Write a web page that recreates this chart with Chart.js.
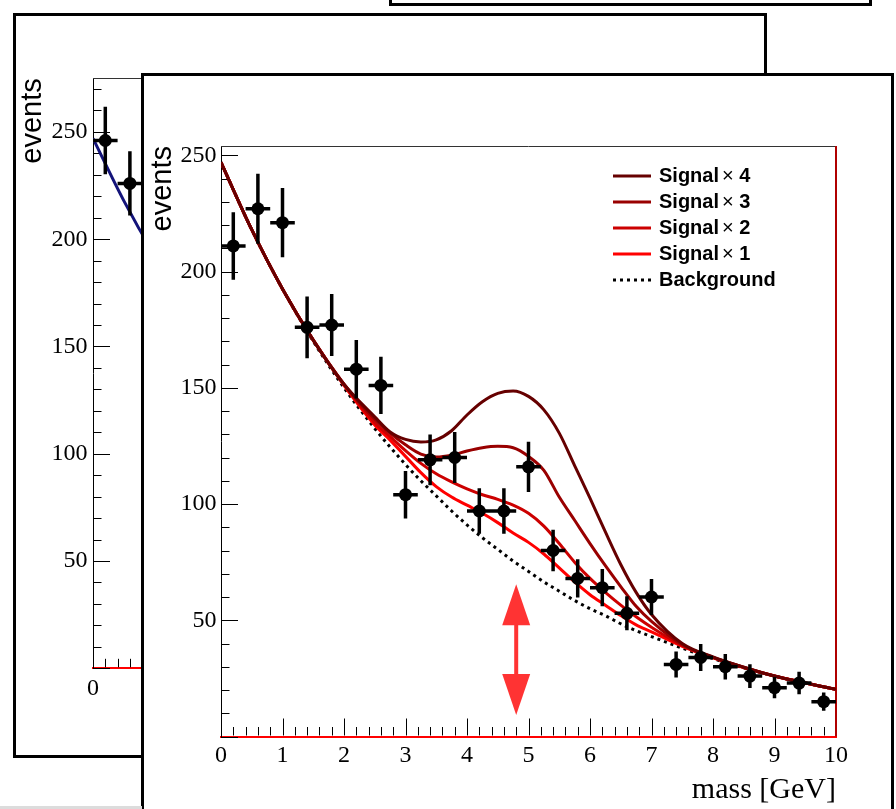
<!DOCTYPE html>
<html><head><meta charset="utf-8">
<script src="https://cdn.jsdelivr.net/npm/chart.js@4.4.1/dist/chart.umd.min.js"></script>
<style>
html,body{margin:0;padding:0;background:#fff;}
body{width:896px;height:809px;overflow:hidden;position:relative;}
.win{position:absolute;box-sizing:border-box;border:3px solid #000;background:#fff;overflow:hidden;}
#w3{left:389px;top:-300px;width:483px;height:306px;}
#w2{left:13px;top:13px;width:754px;height:745px;}
#w1{left:141px;top:73px;width:753px;height:760px;}
canvas{position:absolute;left:0;top:0;}
#bar{position:absolute;left:0;top:806px;width:142px;height:3px;background:#dcdcdc;}
</style></head>
<body>
<div class="win" id="w3"></div>
<div class="win" id="w2"><canvas id="c2" width="748" height="739"></canvas></div>
<div class="win" id="w1"><canvas id="c1" width="747" height="733"></canvas></div>
<div id="bar"></div>
<script>
// ---------- front plot ----------
const massBins = [0.2,0.6,1.0,1.4,1.8,2.2,2.6,3.0,3.4,3.8,4.2,4.6,5.0,5.4,5.8,6.2,6.6,7.0,7.4,7.8,8.2,8.6,9.0,9.4,9.8];
const events = [211,227,221,176,177,158,151,104,119,120,97,97,116,80,68,64,53,60,31,34,30,26,21,23,15];
const eventErrors = [14.5,15.1,14.9,13.3,13.3,12.6,12.3,10.2,10.9,11.0,9.8,9.8,10.8,8.9,8.2,8.0,7.3,7.7,5.6,5.8,5.5,5.1,4.6,4.8,3.9];
const binHalfWidth = 0.2;

const curveMass = [0,0.5,1,1.5,2,2.5,2.75,3,3.25,3.5,3.75,4,4.25,4.5,4.75,5,5.25,5.5,5.75,6,6.25,6.5,6.75,7,7.5,8,8.5,9,9.5,10];
const background = [247,218,192.5,170,150,132.5,124.5,117,110,103.5,97,91,85.5,80.5,75.5,71,66.5,62.5,58.5,55,52,48.5,45.5,43,38,33.5,29.5,26,23,20.3];
const signalTimes1 = [247,218,192.5,170.5,151,134,127.5,120.5,113.5,107.5,103,99.5,96,92,87.5,83.5,78.5,72.5,66.5,61,56.5,52,48,45,38.8,33.8,29.6,26,23,20.3];
const signalTimes2 = [247,218,192.5,170.5,151.5,135,129,123,117.5,113,109.5,106.5,104,102,99.5,96,90.5,83,75,68,62,56.5,51.5,47,39.2,34,29.7,26,23,20.3];
const signalTimes3 = [247,218,192.5,170.5,151.5,136.5,130.5,125.5,121.5,120.2,121,122.8,124.2,124.8,124.2,120.5,114.5,103,93,83,73.5,64.5,56,49.5,39.5,34,29.8,26,23,20.3];
const signalTimes4 = [247,218,192.5,170.5,151.5,137.5,131,127.8,126.7,127.6,131.5,138.3,144,147.6,148.6,146.3,140.5,130.5,116.5,102.5,88,74,62,52.5,40,34.2,29.8,26,23,20.3];

const massTicks = [0,1,2,3,4,5,6,7,8,9,10];
const eventTicks = [50,100,150,200,250];
const arrowMass = 4.8;
const arrowEvents = [9.2, 65.5];

// ---------- partially hidden plot behind ----------
const backBins = [0.2, 0.6];
const backEvents = [246, 226];
const backErrors = [15.7, 15.0];
const backCurveMass = [0, 0.5, 1, 1.5];
const backCurve = [247, 218, 192.5, 170];

function pts(xs, ys){ return xs.map((x,i)=>({x:x, y:ys[i]})); }
function vBars(xs, ys, es){ const o=[]; xs.forEach((x,i)=>{o.push({x:x,y:ys[i]-es[i]},{x:x,y:ys[i]+es[i]},{x:x,y:null});}); return o; }
function hBars(xs, ys, hw){ const o=[]; xs.forEach((x,i)=>{o.push({x:x-hw,y:ys[i]},{x:x+hw,y:ys[i]},{x:x,y:null});}); return o; }

const rootAxes = {
  id:'rootAxes',
  beforeDatasetsDraw(chart, args, o){
    const {ctx, chartArea:a, scales:{x,y}} = chart;
    ctx.save();
    ctx.strokeStyle='#000'; ctx.lineWidth=1;
    ctx.beginPath();
    let n = Math.round((x.max-x.min)/o.xMinor);
    for(let i=0;i<=n;i++){
      const v = x.min + i*o.xMinor;
      const major = Math.abs(v/o.xMajor - Math.round(v/o.xMajor)) < 1e-6;
      const px = Math.round(x.getPixelForValue(v))+0.5;
      ctx.moveTo(px, a.bottom-1); ctx.lineTo(px, a.bottom-1-(major?o.majorLen:o.minorLen));
    }
    n = Math.floor((y.max-y.min)/o.yMinor+1e-6);
    for(let i=0;i<=n;i++){
      const v = y.min + i*o.yMinor;
      const major = Math.abs(v/o.yMajor - Math.round(v/o.yMajor)) < 1e-6;
      const py = Math.round(y.getPixelForValue(v))+0.5;
      ctx.moveTo(a.left, py); ctx.lineTo(a.left+(major?o.majorLen:o.minorLen), py);
    }
    ctx.stroke();
    ctx.beginPath(); ctx.strokeStyle=o.topColor; ctx.lineWidth=1;
    ctx.moveTo(a.left, Math.round(a.top)+0.5); ctx.lineTo(a.right, Math.round(a.top)+0.5); ctx.stroke();
    ctx.beginPath(); ctx.strokeStyle=o.rightColor; ctx.lineWidth=2;
    ctx.moveTo(a.right, a.top); ctx.lineTo(a.right, a.bottom); ctx.stroke();
    ctx.restore();
  }
};

const rootLegend = {
  id:'rootLegend',
  afterDraw(chart, args, o){
    const ctx = chart.ctx;
    const items = chart.data.datasets.filter(d=>d.legendRank!==undefined).sort((p,q)=>p.legendRank-q.legendRank);
    items.forEach((d,i)=>{
      const yy = o.top + i*o.rowHeight;
      ctx.save();
      ctx.strokeStyle=d.borderColor; ctx.lineWidth=d.borderWidth; ctx.setLineDash(d.borderDash||[]);
      ctx.beginPath(); ctx.moveTo(o.lineX0, yy); ctx.lineTo(o.lineX1, yy); ctx.stroke();
      ctx.setLineDash([]);
      ctx.fillStyle='#000'; ctx.textBaseline='middle'; ctx.textAlign='left';
      const parts = d.label.split('\u00d7');
      let xx = o.textX;
      ctx.font = o.font;
      ctx.fillText(parts[0], xx, yy);
      if(parts.length>1){
        xx += ctx.measureText(parts[0]).width + o.timesGap;
        ctx.font = o.timesFont;
        ctx.fillText('\u00d7', xx, yy);
        xx += ctx.measureText('\u00d7').width;
        ctx.font = o.font;
        ctx.fillText(parts[1], xx, yy);
      }
      ctx.restore();
    });
  }
};

const rootArrow = {
  id:'rootArrow',
  afterDatasetsDraw(chart, args, o){
    const {ctx, scales:{x,y}} = chart;
    const px = x.getPixelForValue(o.mass);
    const yb = y.getPixelForValue(o.events[0]);
    const yt = y.getPixelForValue(o.events[1]);
    ctx.save();
    ctx.fillStyle=o.color; ctx.strokeStyle=o.color; ctx.lineWidth=o.shaft;
    ctx.beginPath(); ctx.moveTo(px, yt+o.headLen-1); ctx.lineTo(px, yb-o.headLen+1); ctx.stroke();
    ctx.beginPath(); ctx.moveTo(px, yt); ctx.lineTo(px+o.headHalf, yt+o.headLen); ctx.lineTo(px-o.headHalf, yt+o.headLen); ctx.closePath(); ctx.fill();
    ctx.beginPath(); ctx.moveTo(px, yb); ctx.lineTo(px+o.headHalf, yb-o.headLen); ctx.lineTo(px-o.headHalf, yb-o.headLen); ctx.closePath(); ctx.fill();
    ctx.restore();
  }
};

const serif = '"Liberation Serif", "Times New Roman", serif';
const sans = '"Liberation Sans", Arial, sans-serif';

function rootChart(canvas, cfg){
  return new Chart(canvas, {
    type:'line',
    data:{datasets:cfg.datasets},
    options:{
      responsive:false, animation:false, devicePixelRatio:1, events:[],
      layout:{padding:cfg.padding},
      plugins:{legend:{display:false}, tooltip:{enabled:false},
        rootAxes:cfg.axes, rootLegend:cfg.legend||false, rootArrow:cfg.arrow||false},
      scales:{
        x:{type:'linear', min:0, max:10,
          grid:{display:false, drawTicks:false},
          border:{display:true, color:'#ff0000', width:2},
          afterBuildTicks:s=>{ s.ticks = massTicks.map(v=>({value:v})); },
          afterFit:s=>{ s.height = cfg.xHeight; },
          ticks:{autoSkip:false, maxRotation:0, padding:cfg.xPad, color:'#000', font:{family:serif, size:24, lineHeight:1.2}},
          title:{display:true, text:'mass [GeV]', align:'end', color:'#000', font:{family:serif, size:30, lineHeight:1.2}, padding:{top:0,bottom:1}}
        },
        y:{type:'linear', min:0, max:cfg.yMax,
          grid:{display:false, drawTicks:false},
          border:{display:true, color:'#000', width:1},
          afterBuildTicks:s=>{ s.ticks = eventTicks.map(v=>({value:v})); },
          afterFit:s=>{ s.width = 77; },
          ticks:{autoSkip:false, padding:cfg.yPad, color:'#000', font:{family:serif, size:24, lineHeight:1.2}},
          title:{display:true, text:'events', align:'end', color:'#000', font:{family:sans, size:29, lineHeight:1.2}, padding:{top:cfg.titlePad,bottom:0}}
        }
      }
    },
    plugins:[rootAxes, rootLegend, rootArrow]
  });
}

function pointSets(xs, ys, es){
  return [
    {label:'data', data:pts(xs,ys), showLine:false, pointRadius:6.5, pointBackgroundColor:'#000', pointBorderWidth:0, order:0},
    {label:'yerr', data:vBars(xs,ys,es), borderColor:'#000', borderWidth:3.5, pointRadius:0, spanGaps:false, order:1},
    {label:'xerr', data:hBars(xs,ys,binHalfWidth), borderColor:'#000', borderWidth:3.5, pointRadius:0, spanGaps:false, order:1}
  ];
}
function curve(label, ys, color, w, rank, order, dash){
  const d = {label:label, data:pts(curveMass, ys), borderColor:color, borderWidth:w, pointRadius:0, cubicInterpolationMode:'monotone', fill:false, order:order, legendRank:rank};
  if(dash) d.borderDash = dash;
  return d;
}

// behind plot
rootChart(document.getElementById('c2'), {
  padding:{left:0, top:62.3, right:56, bottom:0}, xHeight:86.7, yMax:275, xPad:6, yPad:5.5, titlePad:0,
  axes:{xMinor:0.2, xMajor:1, yMinor:10, yMajor:50, majorLen:17, minorLen:8.5, topColor:'#333', rightColor:'#b00000'},
  datasets:[
    ...pointSets(backBins, backEvents, backErrors),
    {label:'fit', data:pts(backCurveMass, backCurve), borderColor:'#14147a', borderWidth:3, pointRadius:0, cubicInterpolationMode:'monotone', order:5}
  ]
});

// front plot
rootChart(document.getElementById('c1'), {
  padding:{left:0, top:70, right:55, bottom:0}, xHeight:72.5, yMax:254, xPad:5, yPad:4.5, titlePad:2,
  axes:{xMinor:0.2, xMajor:1, yMinor:10, yMajor:50, majorLen:17, minorLen:8.5, topColor:'#333', rightColor:'#b00000'},
  legend:{top:100, rowHeight:26, lineX0:469, lineX1:507, textX:515, font:'bold 20px '+sans, timesFont:'normal 20px '+sans, timesGap:3},
  arrow:{mass:arrowMass, events:arrowEvents, color:'#ff3333', headLen:41, headHalf:14, shaft:4},
  datasets:[
    ...pointSets(massBins, events, eventErrors),
    curve('Signal\u00d7 4', signalTimes4, '#660000', 3, 0, 2),
    curve('Signal\u00d7 3', signalTimes3, '#990000', 3, 1, 3),
    curve('Signal\u00d7 2', signalTimes2, '#cc0000', 3, 2, 4),
    curve('Signal\u00d7 1', signalTimes1, '#ff0000', 3, 3, 5),
    curve('Background', background, '#000000', 3, 4, 6, [3,4])
  ]
});
</script>
</body></html>
